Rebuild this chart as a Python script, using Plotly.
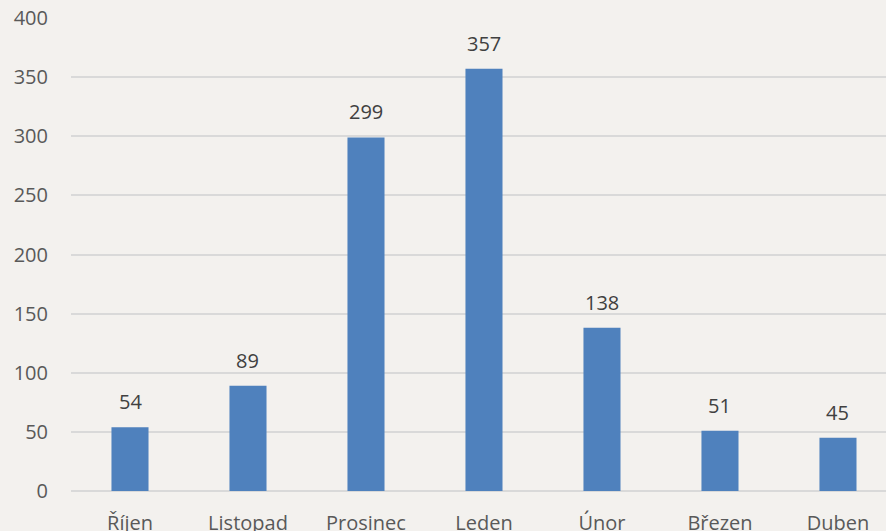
import plotly.graph_objects as go

categories = ["Říjen", "Listopad", "Prosinec", "Leden", "Únor", "Březen", "Duben"]
values = [54, 89, 299, 357, 138, 51, 45]
y_ticks = [0, 50, 100, 150, 200, 250, 300, 350, 400]

FONT = "Open Sans"
BG = "#F3F1EE"
fig = go.Figure()
fig.add_trace(go.Bar(
    x=categories, y=values,
    marker=dict(color="#4F81BD", line=dict(width=0)),
    hoverinfo="skip",
))
for c, v in zip(categories, values):
    fig.add_annotation(x=c, y=v, text=str(v), showarrow=False,
                       yanchor="bottom", yshift=10,
                       font=dict(family=FONT, size=20, color="#404040"))

fig.update_layout(
    width=886, height=531,
    margin=dict(l=71, r=0, t=18, b=40, autoexpand=False),
    paper_bgcolor=BG, plot_bgcolor=BG,
    bargap=0.686, showlegend=False,
    font=dict(family=FONT, size=20, color="#595959"),
)
fig.update_xaxes(
    range=[-0.5, 6.407], showgrid=False, showline=False, automargin=False,
    ticks="outside", ticklen=14, tickcolor="rgba(0,0,0,0)",
    tickfont=dict(family=FONT, size=20, color="#595959"),
)
fig.update_yaxes(
    range=[0, 400], tickvals=y_ticks, showline=False, automargin=False,
    gridcolor="#D9D9D9", gridwidth=2, zeroline=True, zerolinecolor="#D9D9D9", zerolinewidth=2,
    ticks="outside", ticklen=18, tickcolor="rgba(0,0,0,0)",
    tickfont=dict(family=FONT, size=20, color="#595959"),
)
fig.write_html(
    "out.html",
    config={"displayModeBar": False},
    post_script="document.body.style.margin='0';document.body.style.overflow='hidden';document.body.style.background='%s';" % BG,
)
